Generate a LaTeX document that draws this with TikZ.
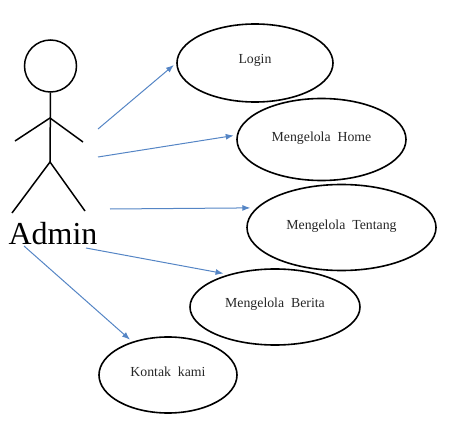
\documentclass[tikz,border=0pt]{standalone}
\usepackage{fontspec}
\setmainfont{Liberation Serif}
\usetikzlibrary{shapes.geometric, arrows.meta, positioning}

\begin{document}
\begin{tikzpicture}[
    x=1pt, y=-1pt,
    usecase/.style={ellipse, draw=black, line width=1.6pt, inner sep=0pt, align=center, font=\fontsize{13.8}{16}\selectfont, text=black!85, text depth=8pt},
    stick/.style={black, line width=1.5pt},
    arrow/.style={-{Latex[length=2.8mm, width=2.1mm]}, draw=arrowblue, line width=1pt}
]
\definecolor{arrowblue}{HTML}{5585C5}
\useasboundingbox (0,0) rectangle (451,431);

% use cases
\node[usecase, minimum width=156pt, minimum height=78pt] (login) at (255,63) {Login};
\node[usecase, minimum width=169pt, minimum height=82pt, text depth=5pt] (home) at (321.5,139.5) {Mengelola\ \ Home};
\node[usecase, minimum width=189pt, minimum height=86pt, text depth=5pt] (tentang) at (341.5,227.5) {Mengelola\ \ Tentang};
\node[usecase, minimum width=170pt, minimum height=76pt] (berita) at (275,307) {Mengelola\ \ Berita};
\node[usecase, minimum width=138pt, minimum height=76pt, text depth=7pt] (kontak) at (168,375) {Kontak\ \ kami};

% actor
\node[circle, stick, draw, inner sep=0pt, minimum size=52pt] (head) at (50.5,66) {};
\coordinate (shoulder) at (50,118);
\coordinate (hip) at (50,162);
\coordinate (handL) at (15,141);
\coordinate (handR) at (83,142);
\coordinate (footL) at (12,213);
\coordinate (footR) at (85,211);
\node[font=\fontsize{32}{36}\selectfont, inner sep=0pt] (admin) at (53,234) {Admin};

\draw[stick] (head.south) -- (hip);
\draw[stick] (handL) -- (shoulder) -- (handR);
\draw[stick] (footL) -- (hip) -- (footR);

% start points of the arrows
\coordinate (startLogin) at (98,129);
\coordinate (startHome) at (98,157);
\coordinate (startTentang) at (110,209);
\coordinate (startBerita) at (86,248);
\coordinate (startKontak) at (24,246);

\draw[arrow, shorten >=3pt] (startLogin) -- (login.west);
\draw[arrow, shorten >=3pt] (startHome) -- (home.177);
\draw[arrow, shorten >=6pt] (startTentang) -- (tentang.167);
\draw[arrow, shorten >=5pt] (startBerita) -- (berita.145);
\draw[arrow, shorten >=3pt] (startKontak) -- (kontak.137);

\end{tikzpicture}
\end{document}
